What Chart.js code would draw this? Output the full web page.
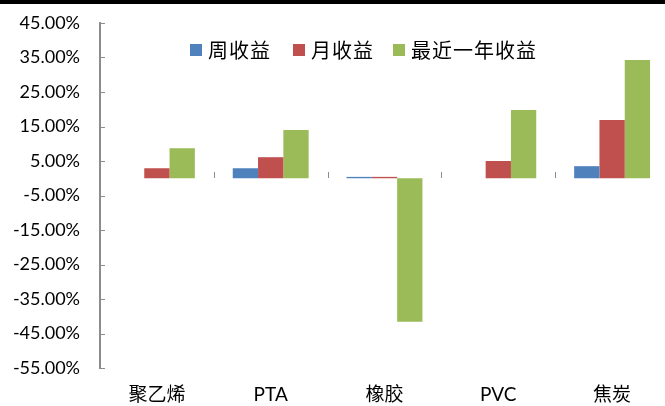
<!DOCTYPE html>
<html>
<head>
<meta charset="utf-8">
<script src="https://cdn.jsdelivr.net/npm/chart.js@4.4.0/dist/chart.umd.min.js"></script>
<style>
  html, body { margin: 0; padding: 0; background: #fff; overflow: hidden; }
  #wrap { width: 665px; height: 406px; overflow: hidden; }
</style>
</head>
<body>
<div id="wrap"><canvas id="grafico" width="669" height="406"></canvas></div>
<script>
// Datos del gráfico
const categorias = ["聚乙烯", "PTA", "橡胶", "PVC", "焦炭"];
const nombresSeries = ["周收益", "月收益", "最近一年收益"];
const semanal = [0.0, 2.9, 0.4, 0.0, 3.5];
const mensual = [2.9, 6.1, 0.4, 5.0, 16.9];
const anual = [8.7, 14.0, -41.6, 19.8, 34.3];
const colores = ["#4F81BD", "#C0504D", "#9BBB59"];

const fuente = "Lato, 'Noto Sans CJK SC', sans-serif";
const gris = "#8C8C8C";

// Plugin: franja negra superior, marcas interiores y leyenda dentro del área
const extras = {
  id: "extras",
  beforeDraw(chart) {
    const ctx = chart.ctx;
    ctx.save();
    ctx.fillStyle = "#000";
    ctx.fillRect(0, 0, chart.width, 4);
    ctx.restore();
  },
  afterDraw(chart) {
    const ctx = chart.ctx;
    const area = chart.chartArea;
    const y = chart.scales.y;
    ctx.save();
    ctx.strokeStyle = gris;
    ctx.lineWidth = 1;
    // marcas del eje Y hacia dentro
    y.ticks.forEach(t => {
      const py = Math.round(y.getPixelForValue(t.value)) + 0.5;
      ctx.beginPath();
      ctx.moveTo(area.left, py);
      ctx.lineTo(area.left + 5, py);
      ctx.stroke();
    });
    // marcas entre categorías sobre la línea cero
    const cero = Math.round(y.getPixelForValue(0));
    const ancho = (area.right - area.left) / categorias.length;
    for (let i = 1; i < categorias.length; i++) {
      const px = Math.round(area.left + i * ancho) + 0.5;
      ctx.beginPath();
      ctx.moveTo(px, cero);
      ctx.lineTo(px, cero - 6);
      ctx.stroke();
    }
    // leyenda
    const posiciones = [190, 293, 393];
    ctx.font = "20px 'Noto Sans CJK SC', sans-serif";
    ctx.letterSpacing = "1px";
    ctx.textBaseline = "middle";
    chart.data.datasets.forEach((ds, i) => {
      ctx.fillStyle = ds.backgroundColor;
      ctx.fillRect(posiciones[i], 44, 12, 12);
      ctx.fillStyle = "#000";
      ctx.fillText(ds.label, posiciones[i] + 18, 50);
    });
    ctx.restore();
  }
};

const ctx = document.getElementById("grafico").getContext("2d");
const chart = new Chart(ctx, {
  type: "bar",
  data: {
    labels: categorias,
    datasets: [
      { label: nombresSeries[0], data: semanal, backgroundColor: colores[0] },
      { label: nombresSeries[1], data: mensual, backgroundColor: colores[1] },
      { label: nombresSeries[2], data: anual, backgroundColor: colores[2] }
    ]
  },
  options: {
    responsive: false,
    animation: false,
    categoryPercentage: 0.667,
    barPercentage: 1.0,
    layout: { padding: { top: 23, right: 0, bottom: 0, left: 0 } },
    plugins: {
      legend: { display: false },
      tooltip: { enabled: false }
    },
    scales: {
      x: {
        grid: { display: false },
        border: { display: false },
        ticks: {
          color: "#000",
          font: { family: fuente, size: 19 },
          padding: 7,
          maxRotation: 0
        },
        afterFit(scale) {
          scale.height = 38;
          scale.paddingLeft = 0;
          scale.paddingRight = 0;
        }
      },
      y: {
        min: -55,
        max: 45,
        ticks: {
          stepSize: 10,
          color: "#000",
          font: { family: fuente, size: 18 },
          padding: 20,
          callback: v => v.toFixed(2) + "%"
        },
        grid: {
          drawTicks: false,
          lineWidth: 2,
          color: c => (c.tick && c.tick.value === 0 ? gris : "rgba(0,0,0,0)")
        },
        border: { display: true, color: gris, width: 2 },
        afterFit(scale) {
          scale.width = 100;
          scale.paddingTop = 0;
          scale.paddingBottom = 0;
        }
      }
    }
  },
  plugins: [extras]
});
</script>
</body>
</html>
